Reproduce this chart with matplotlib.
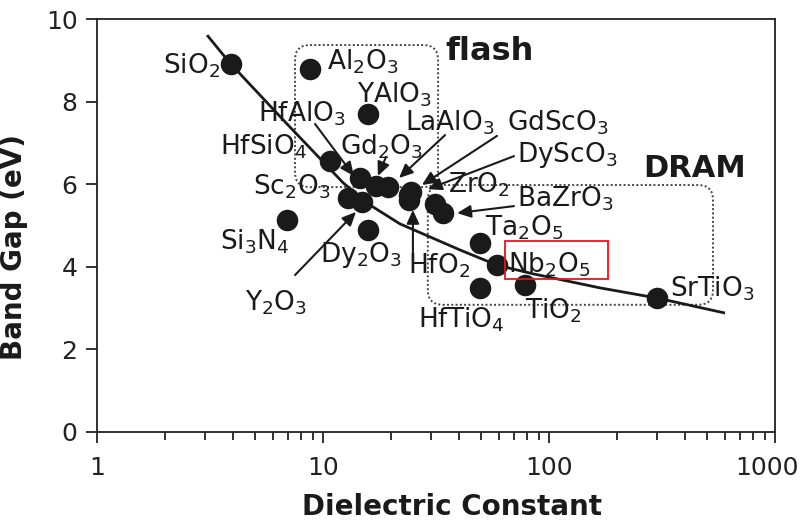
import numpy as np
import matplotlib
matplotlib.use("Agg")
import matplotlib.pyplot as plt
import matplotlib.transforms as mtransforms
from matplotlib.patches import FancyBboxPatch, Rectangle
from matplotlib.ticker import LogLocator, NullFormatter, FixedLocator

# ---- gate dielectric data: dielectric constant k and band gap (eV) ----
materials = ["SiO2", "Al2O3", "YAlO3", "HfSiO4", "HfAlO3", "Gd2O3", "LaAlO3",
             "Sc2O3", "Y2O3", "GdScO3", "DyScO3", "HfO2", "ZrO2", "BaZrO3",
             "Si3N4", "Dy2O3", "Ta2O5", "Nb2O5", "HfTiO4", "TiO2", "SrTiO3"]
dielectric_k = [3.9, 8.8, 15.8, 10.7, 14.6, 17.2, 19.4,
                12.9, 14.9, 24.5, 24.0, 24.0, 31.3, 34.0,
                6.9, 15.8, 49.5, 58.9, 49.5, 78.0, 300.0]
band_gap = [8.9, 8.8, 7.7, 6.55, 6.15, 5.96, 5.93,
            5.67, 5.57, 5.80, 5.75, 5.62, 5.52, 5.30,
            5.13, 4.89, 4.58, 4.04, 3.49, 3.56, 3.24]

# trend line of band gap versus dielectric constant
trend_k = [3.07, 3.88, 6.93, 12.3, 16.1, 21.9, 40.3, 58.9, 85.0, 168.0, 303.0, 601.0]
trend_gap = [9.61, 8.93, 7.46, 6.03, 5.50, 5.04, 4.41, 4.04, 3.83, 3.49, 3.24, 2.88]

x_ticks = [1, 10, 100, 1000]
x_ticklabels = ["1", "10", "100", "1000"]
y_ticks = [0, 2, 4, 6, 8, 10]

ink = "#1a1a1a"
plt.rcParams["font.family"] = "DejaVu Sans"
plt.rcParams["mathtext.fontset"] = "dejavusans"

fig = plt.figure(figsize=(8.05, 5.24), dpi=100)
ax = fig.add_axes([0.1205, 0.1756, 0.8422, 0.7881])
ax.set_xscale("log")
ax.set_xlim(1, 1000)
ax.set_ylim(0, 10)

# trend curve and data points
ax.plot(trend_k, trend_gap, color=ink, lw=2.0, zorder=2, solid_capstyle="butt")
ax.plot(dielectric_k, band_gap, "o", color=ink, ms=15.5, mew=0, zorder=3)

# application regions (rounded dotted frames)
def region(k0, k1, g0, g1):
    fx0, fx1 = np.log10(k0) / 3, np.log10(k1) / 3
    fy0, fy1 = g0 / 10, g1 / 10
    patch = FancyBboxPatch((fx0, fy0), fx1 - fx0, fy1 - fy0,
                           boxstyle="round,pad=0,rounding_size=0.022",
                           mutation_aspect=678 / 413, transform=ax.transAxes,
                           fill=False, ec="#444444", lw=1.4, ls=(0, (1, 1.2)),
                           zorder=1)
    ax.add_patch(patch)

region(7.52, 32.3, 5.93, 9.37)    # flash
region(29.1, 532.0, 3.08, 5.98)   # DRAM

# highlight frame around Nb2O5
ax.add_patch(Rectangle((63.9, 3.70), 182.4 - 63.9, 4.62 - 3.70, fill=False,
                       ec="#e8141c", lw=1.3, zorder=5))

# material labels: text, k, Eg, alignment
labels = [
    ("SiO$_2$", 3.50, 8.67, "right"),
    ("Al$_2$O$_3$", 10.41, 8.77, "left"),
    ("YAlO$_3$", 14.14, 7.99, "left"),
    ("HfAlO$_3$", 5.16, 7.51, "left"),
    ("LaAlO$_3$", 23.1, 7.31, "left"),
    ("GdScO$_3$", 65.2, 7.31, "left"),
    ("HfSiO$_4$", 3.50, 6.71, "left"),
    ("Gd$_2$O$_3$", 11.89, 6.71, "left"),
    ("DyScO$_3$", 72.2, 6.54, "left"),
    ("Sc$_2$O$_3$", 4.90, 5.74, "left"),
    ("ZrO$_2$", 35.7, 5.79, "left"),
    ("BaZrO$_3$", 72.2, 5.45, "left"),
    ("Si$_3$N$_4$", 3.50, 4.41, "left"),
    ("Dy$_2$O$_3$", 9.70, 4.12, "left"),
    ("Ta$_2$O$_5$", 52.1, 4.77, "left"),
    ("HfO$_2$", 23.8, 3.83, "left"),
    ("Nb$_2$O$_5$", 65.9, 3.87, "left"),
    ("SrTiO$_3$", 343.0, 3.27, "left"),
    ("Y$_2$O$_3$", 4.52, 2.95, "left"),
    ("HfTiO$_4$", 26.3, 2.54, "left"),
    ("TiO$_2$", 78.3, 2.76, "left"),
]
for txt, x, y, ha in labels:
    ax.text(x, y, txt, ha=ha, va="baseline", fontsize=19, color=ink, zorder=6)

ax.text(34.7, 9.01, "flash", ha="left", va="baseline", fontsize=23,
        fontweight="bold", color=ink)
ax.text(260.6, 6.17, "DRAM", ha="left", va="baseline", fontsize=22,
        fontweight="bold", color=ink)

# pointer arrows: (tail k, tail Eg) -> (tip k, tip Eg)
arrows = [
    ((9.22, 7.46), (13.7, 6.20)),
    ((19.0, 6.66), (17.5, 6.20)),
    ((34.7, 7.19), (21.7, 6.15)),
    ((58.9, 7.17), (27.4, 5.98)),
    ((70.0, 6.68), (29.1, 5.88)),
    ((70.0, 5.47), (39.2, 5.30)),
    ((25.0, 4.24), (25.0, 5.38)),
    ((7.52, 3.80), (14.0, 5.33)),
]
for tail, tip in arrows:
    ax.annotate("", xy=tip, xytext=tail,
                arrowprops=dict(arrowstyle="-|>,head_length=0.55,head_width=0.25",
                                mutation_scale=15, lw=1.5, color=ink,
                                shrinkA=0, shrinkB=0), zorder=4)

# axes styling
for s in ax.spines.values():
    s.set_linewidth(1.3)
    s.set_color("#222222")
ax.xaxis.set_major_locator(FixedLocator(x_ticks))
ax.set_xticklabels(x_ticklabels)
ax.xaxis.set_minor_locator(LogLocator(base=10, subs=np.arange(2, 10), numticks=20))
ax.xaxis.set_minor_formatter(NullFormatter())
ax.set_yticks(y_ticks)
ax.tick_params(axis="both", which="major", direction="out", length=8, width=1.3,
               labelsize=18, colors="#222222", top=False, right=False)
ax.tick_params(axis="x", which="major", pad=9)
ax.tick_params(axis="y", which="major", pad=6)
ax.tick_params(axis="x", which="minor", direction="out", length=6, width=1.3,
               colors="#222222", top=False)

# keep the last x tick label inside the canvas
last_label = ax.get_xticklabels()[-1]
last_label.set_transform(last_label.get_transform() +
                         mtransforms.ScaledTranslation(-6 / 72, 0, fig.dpi_scale_trans))

ax.set_xlabel("Dielectric Constant", fontsize=20, fontweight="bold", color=ink)
ax.set_ylabel("Band Gap (eV)", fontsize=20, fontweight="bold", color=ink)
ax.xaxis.set_label_coords(0.523, -0.148)
ax.yaxis.set_label_coords(-0.102, 0.448)

fig.savefig("out.png", dpi=100)
